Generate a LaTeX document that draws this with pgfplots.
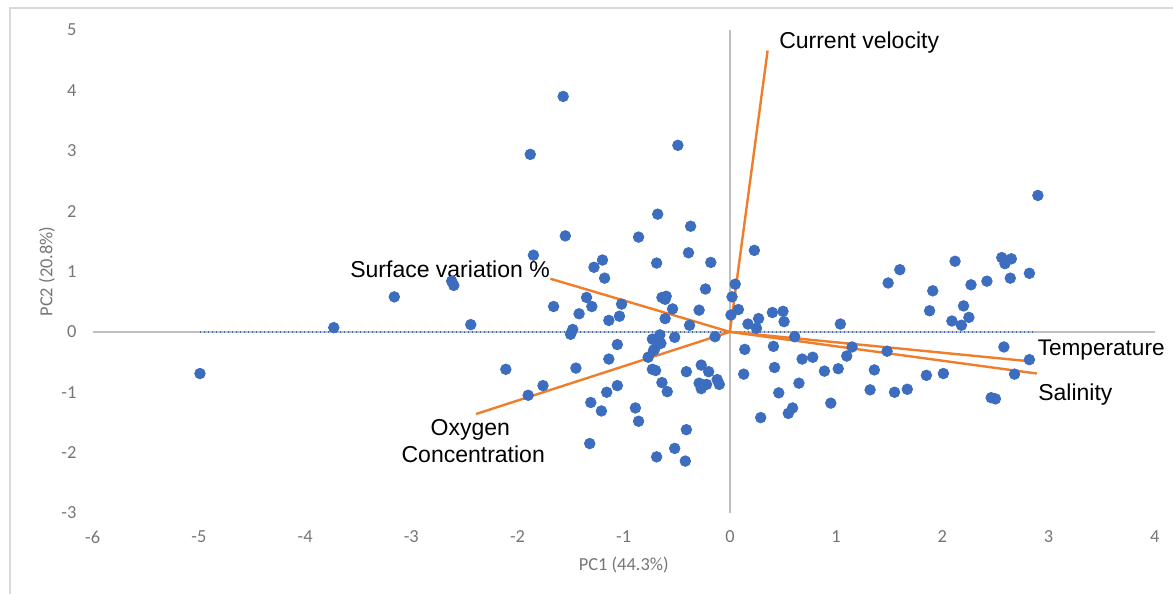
\documentclass[border=0pt]{standalone}
\usepackage{pgfplots}
\pgfplotsset{compat=1.18}
\usepackage{fontspec}
\setmainfont{Carlito}
\newfontfamily\arial{Liberation Sans}
\definecolor{ptblue}{HTML}{3D6DBE}
\definecolor{vecorange}{HTML}{F07D2A}
\definecolor{axgray}{HTML}{BFBFBF}
\definecolor{txtgray}{HTML}{767676}
\definecolor{framegray}{HTML}{D9D9D9}
\begin{document}
\begin{tikzpicture}
\path[use as bounding box] (0,0) rectangle (586.5pt,297pt);
\draw[framegray, line width=0.8pt] (5pt,0) -- (5pt,293pt) -- (586.5pt,293pt);
\begin{axis}[
  at={(46.35pt,40.5pt)}, anchor=south west,
  scale only axis, width=531pt, height=241.5pt,
  xmin=-6, xmax=4, ymin=-3, ymax=5,
  xtick={-6,-5,-4,-3,-2,-1,0,1,2,3,4},
  ytick={-3,-2,-1,0,1,2,3,4,5},
  axis line style={draw=none},
  tick style={draw=none},
  clip=false,
  /pgf/number format/assume math mode=true,
  ticklabel style={font=\fontsize{9.2pt}{11pt}\selectfont, text=txtgray},
  xticklabel style={yshift=-5.4pt},
  yticklabel style={xshift=-4.6pt},
  xlabel={PC1 (44.3\%)},
  ylabel={PC2 (20.8\%)},
  label style={font=\fontsize{9.2pt}{11pt}\selectfont, text=txtgray},
  xlabel style={at={(axis description cs:0.5,-0.1077)}, anchor=center},
  ylabel style={at={(axis description cs:-0.043,0.5)}, anchor=center},
]
% axis lines through the origin
\draw[axgray, line width=0.8pt] (axis cs:-6,0) -- (axis cs:4,0);
\draw[axgray, line width=0.8pt] (axis cs:0,-3) -- (axis cs:0,5);
% dotted trend line
\addplot[ptblue, line width=0.9pt, dash pattern=on 0.7pt off 1.3pt] coordinates {(-4.99,0) (2.88,0)};
% loading vectors
\addplot[vecorange, line width=1.2pt] coordinates {(0,0) (0.355,4.66)};
\addplot[vecorange, line width=1.2pt] coordinates {(0,0) (-1.69,0.88)};
\addplot[vecorange, line width=1.2pt] coordinates {(0,0) (-2.39,-1.36)};
\addplot[vecorange, line width=1.2pt] coordinates {(0,0) (2.78,-0.48)};
\addplot[vecorange, line width=1.2pt] coordinates {(0,0) (2.89,-0.69)};
% scores
\addplot[only marks, mark=*, mark size=2.65pt, ptblue, mark options={draw=ptblue, fill=ptblue}] coordinates {
(-4.99,-0.69) (-3.73,0.07) (-3.16,0.58) (-2.62,0.84) (-2.60,0.77) (-2.44,0.12)
(-2.11,-0.62) (-1.90,-1.05) (-1.76,-0.89) (-1.66,0.42) (-1.50,-0.04) (-1.48,0.04)
(-1.42,0.30) (-1.45,-0.60) (-1.35,0.57) (-1.30,0.42) (-1.31,-1.17) (-1.32,-1.85)
(-1.21,-1.31) (-1.16,-1.00) (-1.14,0.19) (-1.14,-0.45) (-1.06,-0.21) (-1.06,-0.89)
(-1.04,0.26) (-1.02,0.46) (-0.89,-1.26) (-0.86,-1.48) (-0.77,-0.42) (-0.73,-0.12)
(-0.72,-0.31) (-0.71,-0.29) (-0.73,-0.62) (-0.70,-0.64) (-0.69,-2.07) (-0.66,-0.05)
(-0.65,-0.19) (-0.64,-0.84) (-0.64,0.57) (-0.60,0.59) (-0.61,0.54) (-0.61,0.22)
(-0.59,-0.99) (-0.54,0.38) (-0.52,-0.09) (-0.52,-1.93) (-0.42,-2.14) (-0.41,-1.62)
(-0.41,-0.66) (-0.38,0.11) (-0.29,0.36) (-0.27,-0.55) (-0.29,-0.85) (-0.27,-0.94)
(-0.25,-0.88) (-0.22,-0.87) (-0.20,-0.66) (-0.23,0.71) (-0.14,-0.08) (-0.12,-0.79)
(-0.10,-0.87) (0.01,0.28) (0.02,0.58) (0.05,0.79) (0.08,0.37) (0.14,-0.29)
(0.13,-0.70) (0.17,0.13) (0.25,0.06) (0.27,0.22) (0.29,-1.42) (0.40,0.32)
(0.50,0.34) (0.51,0.17) (0.41,-0.24) (0.42,-0.59) (0.46,-1.01) (0.55,-1.35)
(0.59,-1.26) (0.61,-0.08) (0.65,-0.85) (0.68,-0.45) (0.78,-0.42) (0.89,-0.65)
(0.95,-1.18) (1.02,-0.61) (1.04,0.13) (1.10,-0.40) (1.15,-0.25) (1.32,-0.96)
(1.36,-0.63) (1.48,-0.32) (1.49,0.81) (1.60,1.03) (1.55,-1.00) (1.67,-0.95)
(1.85,-0.72) (1.88,0.35) (1.91,0.68) (2.01,-0.69) (2.09,0.18) (2.12,1.17)
(2.18,0.11) (2.20,0.43) (2.25,0.24) (2.27,0.78) (2.42,0.84) (2.56,1.23)
(2.59,1.13) (2.65,1.21) (2.64,0.89) (2.82,0.97) (2.90,2.26) (2.58,-0.25)
(2.82,-0.46) (2.68,-0.70) (2.46,-1.09) (2.50,-1.11)
(-1.57,3.90) (-1.88,2.94) (-0.49,3.09) (-0.68,1.95) (-0.37,1.75) (-1.55,1.59)
(-0.86,1.57) (-1.85,1.27) (0.23,1.35) (-0.39,1.31) (-1.20,1.19) (-0.69,1.14)
(-0.18,1.15) (-1.28,1.07) (-1.18,0.89)
};
% vector labels
\node[anchor=base west, inner sep=0pt, font=\arial\fontsize{11.5pt}{13.9pt}\selectfont] at (axis cs:0.461,4.69) {Current velocity};
\node[anchor=base west, inner sep=0pt, font=\arial\fontsize{11.5pt}{13.9pt}\selectfont] at (axis cs:-3.578,0.90) {Surface variation \%};
\node[anchor=base, inner sep=0pt, font=\arial\fontsize{11.5pt}{13.9pt}\selectfont] at (axis cs:-2.445,-1.71) {Oxygen};
\node[anchor=base, inner sep=0pt, font=\arial\fontsize{11.5pt}{13.9pt}\selectfont] at (axis cs:-2.417,-2.17) {Concentration};
\node[anchor=base west, inner sep=0pt, font=\arial\fontsize{11.3pt}{13.6pt}\selectfont] at (axis cs:2.895,-0.386) {Temperature};
\node[anchor=base west, inner sep=0pt, font=\arial\fontsize{11.5pt}{13.9pt}\selectfont] at (axis cs:2.90,-1.142) {Salinity};
\end{axis}
\end{tikzpicture}
\end{document}
